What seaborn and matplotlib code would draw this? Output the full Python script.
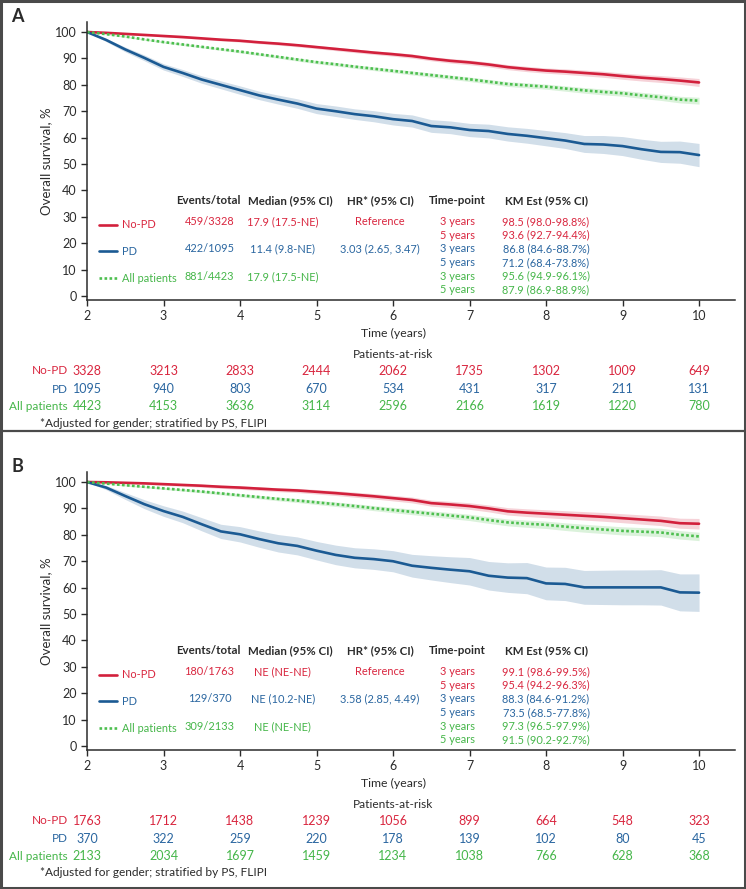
import numpy as np
import pandas as pd
import seaborn as sns
import matplotlib.pyplot as plt
from matplotlib.patches import Rectangle
from matplotlib.lines import Line2D

# ---- data ----
years = [2.0, 2.25, 2.5, 2.75, 3.0, 3.25, 3.5, 3.75, 4.0, 4.25, 4.5, 4.75, 5.0,
         5.25, 5.5, 5.75, 6.0, 6.25, 6.5, 6.75, 7.0, 7.25, 7.5, 7.75, 8.0,
         8.25, 8.5, 8.75, 9.0, 9.25, 9.5, 9.75, 10.0]

# panel A
a_nopd = [100, 99.7, 99.3, 98.9, 98.5, 98.1, 97.6, 97.1, 96.7, 96.1, 95.6, 95.0, 94.3,
          93.6, 92.9, 92.2, 91.6, 90.9, 89.9, 89.1, 88.5, 87.7, 86.7, 86.0, 85.4,
          85.0, 84.5, 84.0, 83.3, 82.7, 82.2, 81.6, 80.9]
a_nopd_ci = [0, 0.2, 0.3, 0.3, 0.35, 0.4, 0.4, 0.45, 0.5, 0.5, 0.55, 0.6, 0.6,
             0.65, 0.7, 0.7, 0.75, 0.8, 0.8, 0.85, 0.9, 0.9, 0.95, 1.0, 1.0,
             1.05, 1.1, 1.15, 1.2, 1.25, 1.3, 1.4, 1.5]
a_pd = [100, 97.0, 93.4, 90.2, 86.8, 84.5, 82.0, 80.0, 78.0, 76.0, 74.4, 72.9, 71.0,
        70.0, 68.9, 68.1, 67.0, 66.3, 64.4, 63.9, 62.9, 62.5, 61.4, 60.7, 59.8,
        58.9, 57.6, 57.4, 56.8, 55.6, 54.6, 54.5, 53.4]
a_pd_ci = [0, 0.6, 0.9, 1.1, 1.2, 1.3, 1.4, 1.5, 1.6, 1.6, 1.7, 1.8, 1.9,
           2.0, 2.0, 2.1, 2.2, 2.3, 2.4, 2.4, 2.5, 2.6, 2.7, 2.8, 2.9,
           3.0, 3.2, 3.4, 3.6, 3.8, 4.0, 4.2, 4.4]
a_all = [100, 99.2, 98.3, 97.2, 96.2, 95.3, 94.4, 93.5, 92.6, 91.6, 90.6, 89.6, 88.6,
         87.8, 86.9, 86.1, 85.3, 84.5, 83.7, 82.9, 82.1, 81.2, 80.3, 79.8, 79.3,
         78.6, 77.9, 77.3, 76.8, 76.0, 75.3, 74.4, 74.0]
a_all_ci = [0, 0.2, 0.3, 0.3, 0.35, 0.4, 0.4, 0.45, 0.5, 0.5, 0.55, 0.6, 0.6,
            0.65, 0.65, 0.7, 0.7, 0.75, 0.8, 0.8, 0.85, 0.85, 0.9, 0.95, 0.95,
            1.0, 1.05, 1.1, 1.1, 1.15, 1.2, 1.25, 1.3]

# panel B
b_nopd = [100, 99.9, 99.7, 99.5, 99.2, 98.9, 98.6, 98.2, 97.9, 97.5, 97.1, 96.8, 96.3,
          95.8, 95.2, 94.6, 93.9, 93.2, 92.0, 91.5, 90.9, 90.0, 88.9, 88.4, 88.0,
          87.6, 87.2, 86.8, 86.3, 85.8, 85.3, 84.4, 84.2]
b_nopd_ci = [0, 0.2, 0.3, 0.4, 0.45, 0.5, 0.55, 0.6, 0.65, 0.7, 0.75, 0.8, 0.85,
             0.9, 0.95, 1.0, 1.05, 1.1, 1.15, 1.2, 1.25, 1.3, 1.4, 1.45, 1.5,
             1.55, 1.6, 1.65, 1.7, 1.75, 1.8, 1.9, 2.0]
b_pd = [100, 97.9, 94.7, 91.6, 89.0, 86.8, 84.0, 81.3, 80.2, 78.4, 76.8, 75.8, 74.0,
        72.4, 71.3, 70.8, 70.0, 68.3, 67.5, 66.8, 66.2, 64.5, 63.8, 63.6, 61.6,
        61.4, 60.1, 60.1, 60.1, 60.1, 60.1, 58.2, 58.1]
b_pd_ci = [0, 0.8, 1.3, 1.7, 2.0, 2.2, 2.5, 2.7, 2.9, 3.1, 3.3, 3.4, 3.5,
           3.7, 3.8, 3.9, 4.0, 4.3, 4.6, 4.9, 5.2, 5.4, 5.6, 5.9, 6.2,
           6.3, 6.4, 6.5, 6.6, 6.6, 6.7, 7.0, 7.1]
b_all = [100, 99.4, 98.8, 98.2, 97.6, 97.0, 96.4, 95.7, 95.0, 94.3, 93.6, 93.0, 92.3,
         91.6, 90.9, 90.1, 89.4, 88.7, 88.0, 87.3, 86.6, 85.6, 84.7, 84.2, 83.8,
         83.1, 82.5, 82.0, 81.5, 81.2, 80.9, 80.0, 79.4]
b_all_ci = [0, 0.2, 0.3, 0.35, 0.4, 0.45, 0.5, 0.55, 0.6, 0.65, 0.7, 0.75, 0.8,
            0.85, 0.9, 0.95, 1.0, 1.05, 1.1, 1.15, 1.2, 1.25, 1.3, 1.35, 1.4,
            1.45, 1.5, 1.5, 1.55, 1.55, 1.6, 1.6, 1.6]

groups = ["No-PD", "PD", "All patients"]

a_events = ["459/3328", "422/1095", "881/4423"]
a_median = ["17.9 (17.5-NE)", "11.4 (9.8-NE)", "17.9 (17.5-NE)"]
a_hr = ["Reference", "3.03 (2.65, 3.47)", ""]
a_km = ["98.5 (98.0-98.8%)", "93.6 (92.7-94.4%)", "86.8 (84.6-88.7%)",
        "71.2 (68.4-73.8%)", "95.6 (94.9-96.1%)", "87.9 (86.9-88.9%)"]

b_events = ["180/1763", "129/370", "309/2133"]
b_median = ["NE (NE-NE)", "NE (10.2-NE)", "NE (NE-NE)"]
b_hr = ["Reference", "3.58 (2.85, 4.49)", ""]
b_km = ["99.1 (98.6-99.5%)", "95.4 (94.2-96.3%)", "88.3 (84.6-91.2%)",
        "73.5 (68.5-77.8%)", "97.3 (96.5-97.9%)", "91.5 (90.2-92.7%)"]

timepoints = ["3 years", "5 years"]
risk_times = [2, 3, 4, 5, 6, 7, 8, 9, 10]
a_risk_nopd = [3328, 3213, 2833, 2444, 2062, 1735, 1302, 1009, 649]
a_risk_pd = [1095, 940, 803, 670, 534, 431, 317, 211, 131]
a_risk_all = [4423, 4153, 3636, 3114, 2596, 2166, 1619, 1220, 780]
b_risk_nopd = [1763, 1712, 1438, 1239, 1056, 899, 664, 548, 323]
b_risk_pd = [370, 322, 259, 220, 178, 139, 102, 80, 45]
b_risk_all = [2133, 2034, 1697, 1459, 1234, 1038, 766, 628, 368]

# ---- style ----
line_cols = {"No-PD": "#d2203c", "PD": "#1b5a93", "All patients": "#4dbf4f"}
text_cols = {"No-PD": "#d9263f", "PD": "#2a66a0", "All patients": "#45b649"}
dark = "#2b2b2b"

sns.set_style("ticks")
plt.rcParams["font.family"] = ["Lato", "DejaVu Sans"]

W, H = 746, 889
fig = plt.figure(figsize=(W / 100, H / 100), dpi=100)


def px_axes(left, top, right, bottom):
    return fig.add_axes([left / W, 1 - bottom / H, (right - left) / W, (bottom - top) / H])


def draw_panel(ax, top_px, bot_px, curves, events, median, hr, km, risk, letter):
    for name, (surv, ci) in zip(groups, curves):
        df = pd.DataFrame({"t": years, "s": surv})
        lo = np.array(surv) - np.array(ci)
        hi = np.array(surv) + np.array(ci)
        ax.fill_between(years, lo, hi, color=line_cols[name], alpha=0.2, lw=0)
        ls = (0, (1, 0.9)) if name == "All patients" else "-"
        sns.lineplot(data=df, x="t", y="s", ax=ax, color=line_cols[name],
                     lw=1.9, linestyle=ls, label=name)

    ax.set_xlim(2, 10.47)
    ax.set_ylim(-1.5, 103.8)
    ax.set_xticks(risk_times)
    ax.set_yticks(range(0, 101, 10))
    ax.set_xlabel("")
    ax.set_ylabel("Overall survival, %", fontsize=9.5, color=dark, labelpad=2)
    ax.tick_params(labelsize=9, colors=dark, length=4, width=1)
    for s in ["left", "bottom"]:
        ax.spines[s].set_color(dark)
        ax.spines[s].set_linewidth(1.1)
    sns.despine(ax=ax)

    # in-plot legend (keys + group names)
    leg = ax.legend(loc="upper left", bbox_to_anchor=(2.08, 31.1),
                    bbox_transform=ax.transData, frameon=False, fontsize=7.9,
                    borderpad=0, labelspacing=1.42, handlelength=1.7,
                    handletextpad=0.45)
    for txt in leg.get_texts():
        txt.set_color(text_cols[txt.get_text()])

    fs = 7.9
    head_y = 36.2
    row_y = [28.3, 18.0, 7.4]
    km_y = [28.3, 23.1, 17.9, 12.7, 7.5, 2.3]
    for x, lab in zip([3.58, 4.66, 5.83, 6.84, 8.0],
                      ["Events/total", "Median (95% CI)", "HR* (95% CI)",
                       "Time-point", "KM Est (95% CI)"]):
        ax.text(x, head_y, lab, ha="center", va="center", fontsize=8.3,
                fontweight="bold", color=dark)
    for i, name in enumerate(groups):
        c = text_cols[name]
        ax.text(3.6, row_y[i], events[i], ha="center", va="center", fontsize=fs, color=c)
        ax.text(4.56, row_y[i], median[i], ha="center", va="center", fontsize=fs, color=c)
        ax.text(5.83, row_y[i], hr[i], ha="center", va="center", fontsize=fs, color=c)
        for j in range(2):
            k = 2 * i + j
            ax.text(6.84, km_y[k], timepoints[j], ha="center", va="center", fontsize=fs, color=c)
            ax.text(8.0, km_y[k], km[k], ha="center", va="center", fontsize=fs, color=c)

    # below-axis texts (risk table), y in axes fraction from pixel offsets
    span = bot_px - top_px
    tr = ax.get_xaxis_transform()

    def yf(off):
        return -off / span

    ax.text(6, yf(33), "Time (years)", transform=tr, ha="center", va="center",
            fontsize=8.8, color=dark)
    ax.text(6, yf(55), "Patients-at-risk", transform=tr, ha="center", va="center",
            fontsize=8.6, color=dark)
    for off, name, vals in zip([71, 89, 106], groups, risk):
        c = text_cols[name]
        ax.text(1.75, yf(off), name, transform=tr, ha="right", va="center",
                fontsize=8.5, color=c)
        for t, v in zip(risk_times, vals):
            ax.text(t, yf(off), str(v), transform=tr, ha="center", va="center",
                    fontsize=9.0, color=c)
    ax.text(1.39, yf(123), "*Adjusted for gender; stratified by PS, FLIPI", transform=tr,
            ha="left", va="center", fontsize=8.6, color=dark)

    fig.text(17 / W, 1 - (top_px - 5) / H, letter, ha="center", va="center",
             fontsize=13, fontweight="bold", color=dark)


axA = px_axes(87, 22, 735, 300)
draw_panel(axA, 22, 300,
           [(a_nopd, a_nopd_ci), (a_pd, a_pd_ci), (a_all, a_all_ci)],
           a_events, a_median, a_hr, a_km,
           [a_risk_nopd, a_risk_pd, a_risk_all], "A")

axB = px_axes(87, 472, 735, 750)
draw_panel(axB, 472, 750,
           [(b_nopd, b_nopd_ci), (b_pd, b_pd_ci), (b_all, b_all_ci)],
           b_events, b_median, b_hr, b_km,
           [b_risk_nopd, b_risk_pd, b_risk_all], "B")

# frame and divider
fig.add_artist(Rectangle((0.0015, 0.0015), 0.997, 0.997, transform=fig.transFigure,
                         fill=False, lw=2.2, ec="#4a4a4a"))
fig.add_artist(Line2D([0, 1], [1 - 431 / H, 1 - 431 / H], transform=fig.transFigure,
                      lw=1.6, color="#4a4a4a"))

fig.savefig("out.png", dpi=100)
